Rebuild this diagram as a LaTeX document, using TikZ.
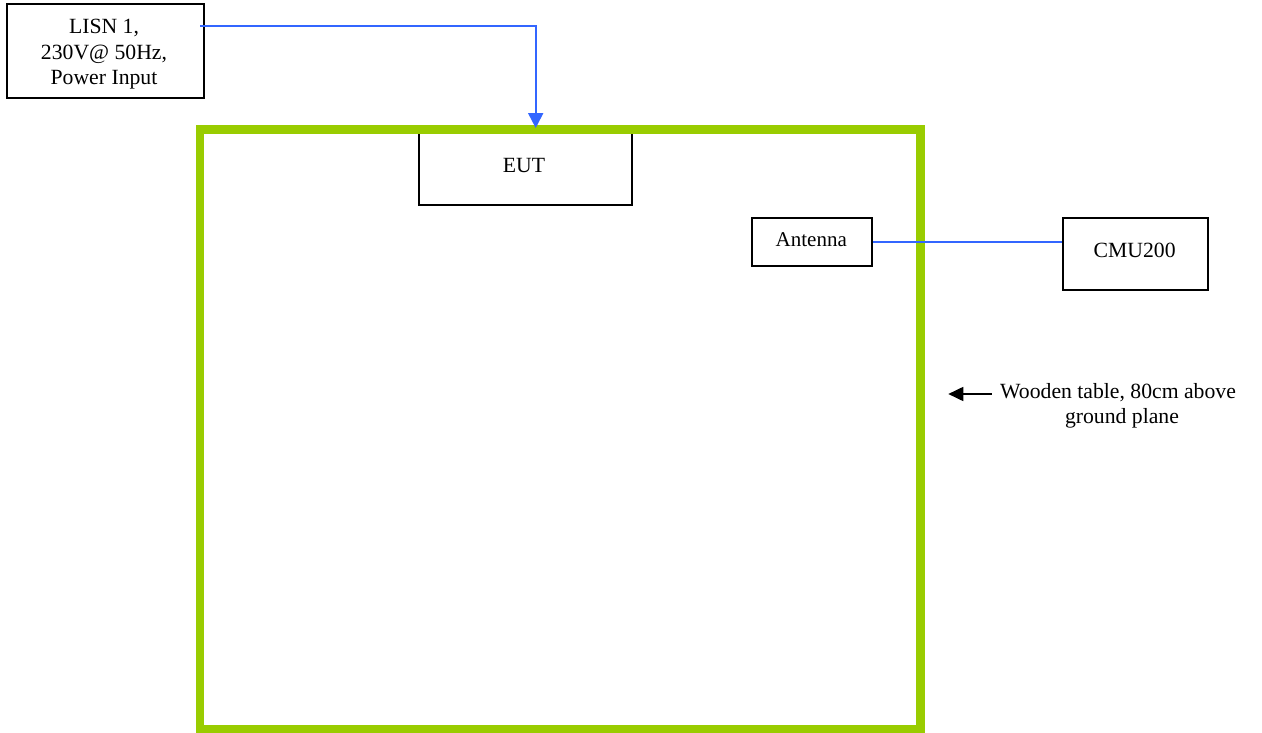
\documentclass[tikz,border=0pt]{standalone}
\usepackage{fontspec}
\setmainfont{Liberation Serif}
\usetikzlibrary{arrows.meta,calc}
\definecolor{tablegreen}{HTML}{99CC00}
\definecolor{wireblue}{HTML}{3366FF}
\tikzset{
  box/.style={draw=black,line width=1.9pt,fill=white,inner sep=0pt},
  lbl/.style={inner sep=0pt,font=\fontsize{21.7}{25.5}\selectfont},
  wire/.style={draw=wireblue,line width=2pt},
  bluetip/.style={-{Triangle[length=15pt,width=15pt]}},
  blackarrow/.style={draw=black,line width=1.8pt,-{Triangle[length=15pt,width=14pt]}},
}
\begin{document}
\begin{tikzpicture}[x=1pt,y=-1pt]
\useasboundingbox (0,0) rectangle (1262,733);
% boxes
\node[box,minimum width=197pt,minimum height=93.4pt] (lisn) at (105.8,51) {};
\node[box,minimum width=213pt,minimum height=75.7pt] (eut) at (525.2,166.85) {};
\node[box,minimum width=120.3pt,minimum height=48pt] (ant) at (811.85,242) {};
\node[box,minimum width=145pt,minimum height=71.7pt] (cmu) at (1135.8,254.15) {};
% wooden table outline
\draw[line width=8.5pt,draw=tablegreen] (200,129.5) rectangle (920.5,729.5);
% texts
\node[lbl,anchor=base] (l1) at (104,34) {LISN 1,};
\node[lbl,anchor=base] (l2) at (104,60) {230V@ 50Hz,};
\node[lbl,anchor=base] (l3) at (104,85) {Power Input};
\node[lbl,anchor=base] (eutt) at (524,172.7) {EUT};
\node[lbl,anchor=base,font=\fontsize{21}{25}\selectfont] (antt) at (811.3,246) {Antenna};
\node[lbl,anchor=base] (cmut) at (1134.7,257.3) {CMU200};
\node[lbl,anchor=base west] (tab1) at (1000,398.3) {Wooden table, 80cm above};
\node[lbl,anchor=base] (tab2) at (1122,423.3) {ground plane};
% connectors
\draw[wire,bluetip] ([xshift=-5pt,yshift=25pt]lisn.east) -| ([xshift=10.5pt]eut.north);
\draw[wire] (ant.east) -- (cmu.west |- ant.east);
\coordinate (tabletip) at (948.3,394);
\draw[blackarrow] ([xshift=-8.3pt,yshift=4.3pt]tab1.base west) -- (tabletip);
\end{tikzpicture}
\end{document}
